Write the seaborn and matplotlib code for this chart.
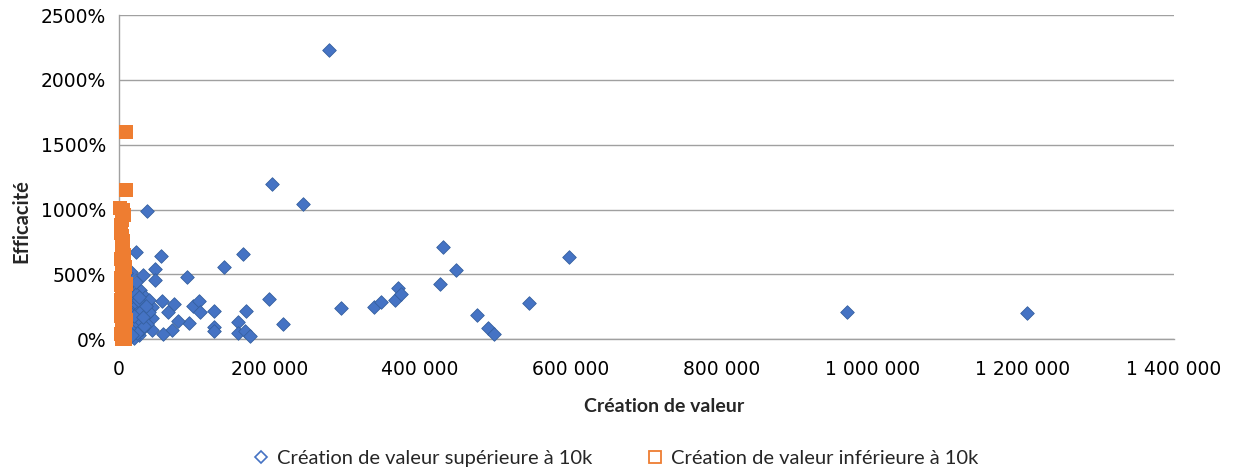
import matplotlib
matplotlib.use("Agg")
import matplotlib.pyplot as plt
from matplotlib.lines import Line2D
from matplotlib.ticker import FuncFormatter
import pandas as pd
import seaborn as sns

# Value creation (x) and efficiency in % (y) for projects above 10k
sup_creation = [
    279600, 203000, 244100, 37300, 430500, 597700, 447300, 426500, 199600, 218100,
    295000, 338700, 347900, 366400, 370900, 375200, 545000, 475200, 489800, 498600,
    966200, 1205000, 22700, 56300, 164700, 140300, 90400, 48300, 32800, 48300,
    16000, 28400, 58000, 73900, 66000, 99100, 107100, 108000, 126600, 169100,
    158800, 126600, 126600, 93000, 79200, 70500, 59300, 158800, 167700, 174400,
    43900, 43900, 43900, 35100, 27500, 31500,
    12000, 14000, 16000, 18000, 12500, 20000, 15000, 24000, 13000, 26000,
    11000, 19000, 22000, 30000, 33000, 36000, 28000, 38000, 17000, 13000,
    21000, 25000, 40000, 34000, 15000, 23000, 11500, 29000, 20000, 41000,
    37000, 14000, 26000, 32000, 18000, 10500, 22500, 27000,
]
sup_efficacite = [
    2230, 1200, 1046, 990, 710, 635, 533, 430, 312, 120,
    243, 246, 289, 302, 392, 346, 281, 187, 85, 41,
    212, 205, 674, 641, 661, 558, 477, 546, 494, 461,
    520, 379, 294, 269, 212, 256, 294, 212, 220, 220,
    135, 97, 66, 123, 141, 72, 38, 46, 66, 28,
    251, 161, 72, 328, 33, 77,
    420, 380, 340, 300, 270, 250, 220, 200, 180, 160,
    140, 120, 100, 280, 230, 190, 150, 120, 60, 30,
    10, 50, 300, 100, 320, 350, 230, 210, 180, 210,
    260, 90, 300, 170, 30, 510, 440, 330,
]

# Value creation (x) and efficiency in % (y) for projects below 10k
inf_creation = [
    9500, 9300, 2500, 6000, 7500, 4500, 3500, 3000, 5000, 6500,
    4000, 5500, 7000, 3000, 4500, 8000, 6000, 4500, 3500, 7000,
    3000, 5500, 7500, 4000, 8500, 3000, 6500, 5000, 3500, 7500,
    9000, 3000, 5500, 8000, 4000, 6500, 5000, 8500, 3000, 7000,
    4000, 9000, 5000, 9500, 8500, 9000, 9500, 8500,
]
inf_efficacite = [
    1600, 1150, 1010, 1000, 960, 920, 880, 820, 800, 760,
    720, 690, 650, 620, 590, 560, 530, 500, 470, 450,
    420, 390, 370, 340, 320, 300, 280, 260, 240, 215,
    200, 180, 160, 140, 120, 100, 80, 60, 40, 25,
    10, 5, 0, 430, 300, 220, 150, 60,
]

x_ticks = [0, 200000, 400000, 600000, 800000, 1000000, 1200000, 1400000]
y_ticks = [0, 500, 1000, 1500, 2000, 2500]

label_sup = "Création de valeur supérieure à 10k"
label_inf = "Création de valeur inférieure à 10k"
blue = "#4573C4"
orange = "#EE7D31"
grey = "#A0A0A0"

sns.set_theme(style="white")
plt.rcParams["font.family"] = ["DejaVu Sans"]

df_sup = pd.DataFrame({"creation": sup_creation, "efficacite": sup_efficacite})
df_inf = pd.DataFrame({"creation": inf_creation, "efficacite": inf_efficacite})

fig = plt.figure(figsize=(12.43, 4.70), dpi=100)
ax = fig.add_axes([0.0954, 0.278, 0.8487, 0.690])

sns.scatterplot(data=df_sup, x="creation", y="efficacite", ax=ax, marker="D",
                s=48, color=blue, edgecolor="#35609F", linewidth=0.6,
                clip_on=False, zorder=3, legend=False)
sns.scatterplot(data=df_inf, x="creation", y="efficacite", ax=ax, marker="s",
                s=90, color=orange, edgecolor=orange, linewidth=0,
                clip_on=False, zorder=4, legend=False)

ax.set_xlim(x_ticks[0], x_ticks[-1])
ax.set_ylim(y_ticks[0], y_ticks[-1])
ax.set_xticks(x_ticks)
ax.set_yticks(y_ticks)
ax.xaxis.set_major_formatter(FuncFormatter(lambda v, p: f"{int(v):,}".replace(",", " ")))
ax.yaxis.set_major_formatter(FuncFormatter(lambda v, p: f"{int(v)}%"))

ax.grid(axis="y", color=grey, linewidth=1.0)
ax.set_axisbelow(True)
for side in ["top", "right"]:
    ax.spines[side].set_visible(False)
for side in ["left", "bottom"]:
    ax.spines[side].set_color(grey)
    ax.spines[side].set_linewidth(1.0)

ax.tick_params(axis="both", which="major", direction="out", length=6, width=1,
               color=grey, labelsize=13.5, labelcolor="black", pad=3)
ax.tick_params(axis="x", pad=9)

ax.set_xlabel("Création de valeur", fontsize=14, fontweight="bold",
              family=["Lato", "DejaVu Sans"])
ax.xaxis.set_label_coords(0.517, -0.18)
ax.set_ylabel("Efficacité", fontsize=14.5, fontweight="bold",
              family=["Lato", "DejaVu Sans"])
ax.yaxis.set_label_coords(-0.083, 0.365)

handles = [
    Line2D([], [], marker="D", linestyle="none", markersize=6.5,
           markerfacecolor="none", markeredgecolor=blue, markeredgewidth=1.2,
           label=label_sup),
    Line2D([], [], marker="s", linestyle="none", markersize=9,
           markerfacecolor="none", markeredgecolor=orange, markeredgewidth=1.3,
           label=label_inf),
]
fig.legend(handles=handles, loc="center", bbox_to_anchor=(0.495, 0.024), ncol=2,
           frameon=False, prop={"family": ["Lato", "DejaVu Sans"], "size": 14.5},
           handlelength=0.8, handletextpad=0.4, columnspacing=2.7)

fig.savefig("out.png", dpi=100)
